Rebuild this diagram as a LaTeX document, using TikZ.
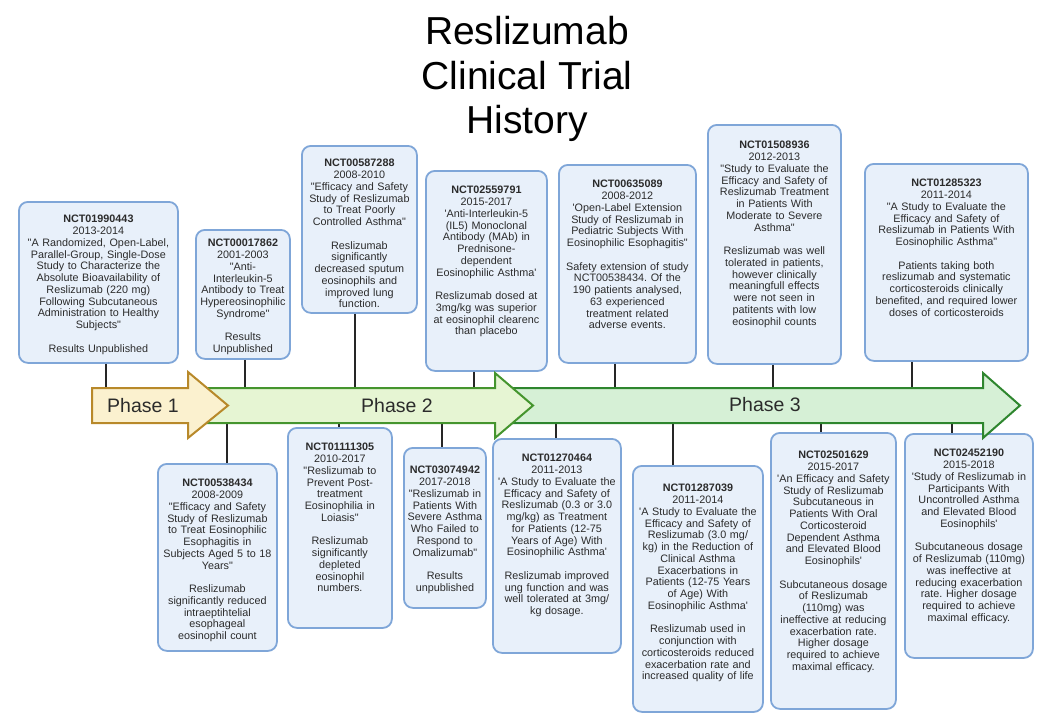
\documentclass[tikz,border=0pt]{standalone}
\usepackage{fontspec}
\newfontfamily\bxfont{Liberation Sans}
\definecolor{boxfill}{HTML}{E8F0FA}
\definecolor{boxline}{HTML}{7FA6D8}
\definecolor{txt}{HTML}{2B2B2B}
\definecolor{pafill}{HTML}{FBF1CF}
\definecolor{paline}{HTML}{B8892A}
\definecolor{pbfill}{HTML}{E6F5D3}
\definecolor{pbline}{HTML}{45952E}
\definecolor{pcfill}{HTML}{D6F0D6}
\definecolor{pcline}{HTML}{2E862E}
\frenchspacing
\tikzset{
  box/.style={draw=boxline, fill=boxfill, line width=1.8pt, rounded corners=9pt,
    anchor=north west, align=center, inner xsep=2pt, inner ysep=0pt,
    font=\bxfont\fontsize{10.8}{11.75}\selectfont, text=txt},
  conn/.style={line width=1.8pt, draw=black!85},
  phasea/.style={draw=paline, fill=pafill, line width=2pt},
  phaseb/.style={draw=pbline, fill=pbfill, line width=2pt},
  phasec/.style={draw=pcline, fill=pcfill, line width=2pt},
  phasetext/.style={font=\bxfont\fontsize{19.5}{22}\selectfont, text=txt, anchor=base},
  titletext/.style={font=\bxfont\fontsize{39}{44}\selectfont, text=black, anchor=base}
}
\begin{document}
\begin{tikzpicture}[x=1pt,y=-1pt]
\useasboundingbox (0,0) rectangle (1039,713);

% title
\node[titletext] (t1) at (527,44) {Reslizumab};
\node[titletext] (t2) at (527,89) {Clinical Trial};
\node[titletext] (t3) at (527,133) {History};

% top boxes
\node[box, text width=155pt, text height=21pt, text depth=140pt] (b1) at (18,201)
 {\textbf{NCT01990443}\\2013-2014\\"A Randomized, Open-Label,\\Parallel-Group, Single-Dose\\Study to Characterize the\\Absolute Bioavailability of\\Reslizumab (220 mg)\\Following Subcutaneous\\Administration to Healthy\\Subjects"\\~\\Results Unpublished};
\node[box, text width=90pt, text height=17pt, text depth=112pt] (b2) at (195,229)
 {\textbf{NCT00017862}\\2001-2003\\"Anti-\\Interleukin-5\\Antibody to Treat\\Hypereosinophilic\\Syndrome"\\~\\Results\\Unpublished};
\node[box, text width=111pt, text height=21pt, text depth=146pt] (b3) at (301,145)
 {\textbf{NCT00587288}\\2008-2010\\"Efficacy and Safety\\Study of Reslizumab\\to Treat Poorly\\Controlled Asthma"\\~\\Reslizumab\\significantly\\decreased sputum\\eosinophils and\\improved lung\\function.};
\node[box, text width=117pt, text height=23pt, text depth=177pt] (b4) at (425,170)
 {\textbf{NCT02559791}\\2015-2017\\'Anti-Interleukin-5\\(IL5) Monoclonal\\Antibody (MAb) in\\Prednisone-\\dependent\\Eosinophilic Asthma'\\~\\Reslizumab dosed at\\3mg/kg was superior\\at eosinophil clearenc\\than placebo};
\node[box, text width=133pt, text height=23pt, text depth=175pt] (b5) at (558,164)
 {\textbf{NCT00635089}\\2008-2012\\'Open-Label Extension\\Study of Reslizumab in\\Pediatric Subjects With\\Eosinophilic Esophagitis"\\~\\Safety extension of study\\NCT00538434. Of the\\190 patients analysed,\\63 experienced\\treatment related\\adverse events.};
\node[box, text width=129pt, text height=24pt, text depth=215pt] (b6) at (707,124)
 {\textbf{NCT01508936}\\2012-2013\\"Study to Evaluate the\\Efficacy and Safety of\\Reslizumab Treatment\\in Patients With\\Moderate to Severe\\Asthma"\\~\\Reslizumab was well\\tolerated in patients,\\however clinically\\meaningfull effects\\were not seen in\\patitents with low\\eosinophil counts};
\node[box, text width=159pt, text height=23pt, text depth=174pt] (b7) at (864,163)
 {\textbf{NCT01285323}\\2011-2014\\"A Study to Evaluate the\\Efficacy and Safety of\\Reslizumab in Patients With\\Eosinophilic Asthma"\\~\\Patients taking both\\reslizumab and systematic\\corticosteroids clinically\\benefited, and required lower\\doses of corticosteroids};

% bottom boxes
\node[box, text width=115pt, text height=23pt, text depth=164pt] (b8) at (157,463)
 {\textbf{NCT00538434}\\2008-2009\\"Efficacy and Safety\\Study of Reslizumab\\to Treat Eosinophilic\\Esophagitis in\\Subjects Aged 5 to 18\\Years"\\~\\Reslizumab\\significantly reduced\\intraeptihtelial\\esophageal\\eosinophil count};
\node[box, text width=100pt, text height=23pt, text depth=177pt] (b9) at (287,427)
 {\textbf{NCT01111305}\\2010-2017\\"Reslizumab to\\Prevent Post-\\treatment\\Eosinophilia in\\Loiasis"\\~\\Reslizumab\\significantly\\depleted\\eosinophil\\numbers.};
\node[box, text width=78pt, text height=26pt, text depth=134pt] (b10) at (403,447)
 {\textbf{NCT03074942}\\2017-2018\\"Reslizumab in\\Patients With\\Severe Asthma\\Who Failed to\\Respond to\\Omalizumab"\\~\\Results\\unpublished};
\node[box, text width=124pt, text height=23pt, text depth=191pt] (b11) at (492,438)
 {\textbf{NCT01270464}\\2011-2013\\'A Study to Evaluate the\\Efficacy and Safety of\\Reslizumab (0.3 or 3.0\\mg/kg) as Treatment\\for Patients (12-75\\Years of Age) With\\Eosinophilic Asthma'\\~\\Reslizumab improved\\ung function and was\\well tolerated at 3mg/\\kg dosage.};
\node[box, text width=126pt, text height=26pt, text depth=220pt] (b12) at (632,465)
 {\textbf{NCT01287039}\\2011-2014\\'A Study to Evaluate the\\Efficacy and Safety of\\Reslizumab (3.0 mg/\\kg) in the Reduction of\\Clinical Asthma\\Exacerbations in\\Patients (12-75 Years\\of Age) With\\Eosinophilic Asthma'\\~\\Reslizumab used in\\conjunction with\\corticosteroids reduced\\exacerbation rate and\\increased quality of life};
\node[box, text width=121pt, text height=26pt, text depth=250pt] (b13) at (770,432)
 {\textbf{NCT02501629}\\2015-2017\\'An Efficacy and Safety\\Study of Reslizumab\\Subcutaneous in\\Patients With Oral\\Corticosteroid\\Dependent Asthma\\and Elevated Blood\\Eosinophils'\\~\\Subcutaneous dosage\\of Reslizumab\\(110mg) was\\ineffective at reducing\\exacerbation rate.\\Higher dosage\\required to achieve\\maximal efficacy.};
\node[box, text width=124pt, text height=23pt, text depth=201pt] (b14) at (904,433)
 {\textbf{NCT02452190}\\2015-2018\\'Study of Reslizumab in\\Participants With\\Uncontrolled Asthma\\and Elevated Blood\\Eosinophils'\\~\\Subcutaneous dosage\\of Reslizumab (110mg)\\was ineffective at\\reducing exacerbation\\rate. Higher dosage\\required to achieve\\maximal efficacy.};

% connector end points on the timeline
\coordinate (c1) at (106,388);
\coordinate (c2) at (245,388);
\coordinate (c3) at (355,388);
\coordinate (c4) at (474,388);
\coordinate (c5) at (615,388);
\coordinate (c6) at (773,388);
\coordinate (c7) at (912,388);
\coordinate (d8) at (227,423);
\coordinate (d9) at (339,423);
\coordinate (d10) at (442,423);
\coordinate (d11) at (556,423);
\coordinate (d12) at (673,423);
\coordinate (d13) at (821,423);
\coordinate (d14) at (952,423);

\draw[conn] (b1.south -| c1) -- (c1);
\draw[conn] (b2.south -| c2) -- (c2);
\draw[conn] (b3.south -| c3) -- (c3);
\draw[conn] (b4.south -| c4) -- (c4);
\draw[conn] (b5.south -| c5) -- (c5);
\draw[conn] (b6.south -| c6) -- (c6);
\draw[conn] (b7.south -| c7) -- (c7);
\draw[conn] (d8) -- (d8 |- b8.north);
\draw[conn] (d9) -- (d9 |- b9.north);
\draw[conn] (d10) -- (d10 |- b10.north);
\draw[conn] (d11) -- (d11 |- b11.north);
\draw[conn] (d12) -- (d12 |- b12.north);
\draw[conn] (d13) -- (d13 |- b13.north);
\draw[conn] (d14) -- (d14 |- b14.north);

% phase arrows
\draw[phasec] (510,388) -- (983,388) -- (983,373) -- (1020,405.5) -- (983,438) -- (983,423) -- (510,423) -- cycle;
\draw[phaseb] (200,388) -- (495,388) -- (495,373) -- (533,405.5) -- (495,438) -- (495,423) -- (200,423) -- cycle;
\draw[phasea] (92,388) -- (188,388) -- (188,372) -- (228,405.5) -- (188,438) -- (188,423) -- (92,423) -- cycle;

\node[phasetext] (p1) at (143,412.5) {Phase 1};
\node[phasetext] (p2) at (397,412.5) {Phase 2};
\node[phasetext] (p3) at (765,411.5) {Phase 3};
\end{tikzpicture}
\end{document}
